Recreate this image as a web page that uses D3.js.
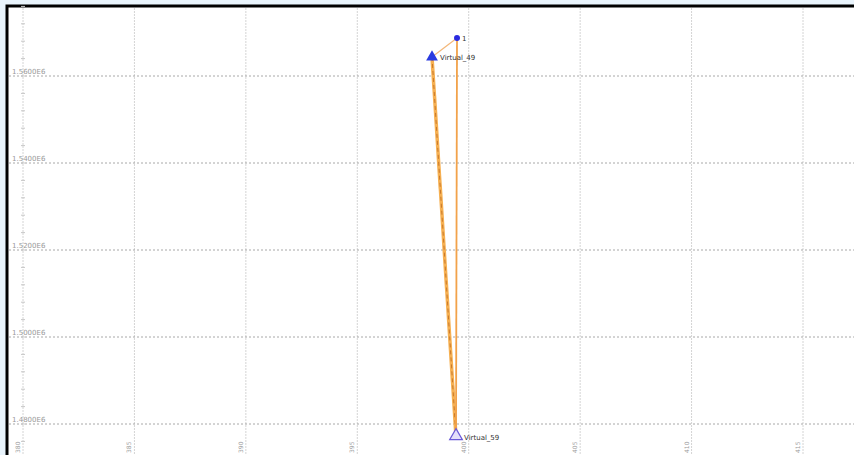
<!DOCTYPE html>
<html>
<head>
<meta charset="utf-8">
<script src="https://cdn.jsdelivr.net/npm/d3@7"></script>
<style>
  body { margin: 0; background: #e9f4fc; }
  svg { display: block; }
  text { font-family: "DejaVu Sans", sans-serif; }
</style>
</head>
<body>
<svg width="854" height="455"></svg>
<script>
// tick values of both axes
var xTicks = [380000, 385000, 390000, 395000, 400000, 405000, 410000, 415000];
var yTicks = [1560000, 1540000, 1520000, 1500000, 1480000];

// nodes: name, easting, northing, marker kind
var nodeNames = ['1', 'Virtual_49', 'Virtual_59'];
var nodeX = [399475, 398353, 399430];
var nodeY = [1568736, 1564368, 1477011];
var nodeKind = ['circle', 'filled', 'open'];

// links between nodes
var linkFrom = ['1', 'Virtual_49', '1'];
var linkTo = ['Virtual_49', 'Virtual_59', 'Virtual_59'];
var linkKind = ['thin', 'double', 'single'];

var svg = d3.select('svg');

var frame = {l: 7, t: 6};

// frame
svg.append('rect')
    .attr('x', frame.l).attr('y', frame.t)
    .attr('width', 900).attr('height', 500)
    .attr('fill', '#fff')
    .attr('stroke', '#000')
    .attr('stroke-width', 3);

var xScale = d3.scaleLinear().domain([380000, 415000]).range([23, 803]);
var yScale = d3.scaleLinear().domain([1560000, 1480000]).range([76, 424]);

var gridG = svg.append('g');

// vertical grid lines
gridG.selectAll('.vgrid').data(xTicks).enter()
    .append('line')
    .attr('class', 'vgrid')
    .attr('x1', function(d){ return xScale(d); })
    .attr('x2', function(d){ return xScale(d); })
    .attr('y1', frame.t + 2).attr('y2', 455)
    .attr('stroke', '#d4d4d4')
    .attr('stroke-dasharray', '2,1');

// horizontal grid lines
gridG.selectAll('.hgrid').data(yTicks).enter()
    .append('line')
    .attr('class', 'hgrid')
    .attr('y1', function(d){ return yScale(d); })
    .attr('y2', function(d){ return yScale(d); })
    .attr('x1', frame.l + 2).attr('x2', 854)
    .attr('stroke', '#a8a8a8')
    .attr('stroke-dasharray', '2,2');

// minor ticks on first vertical line
var minor = d3.range(1580000, 1470000, -4000);
gridG.selectAll('.minor').data(minor).enter()
    .append('line')
    .attr('x1', xScale(380000) - 2).attr('x2', xScale(380000) + 2)
    .attr('y1', function(d){ return yScale(d); })
    .attr('y2', function(d){ return yScale(d); })
    .attr('stroke', '#c8c8c8');

// y tick labels
gridG.selectAll('.ylab').data(yTicks).enter()
    .append('text')
    .attr('x', 12)
    .attr('y', function(d){ return yScale(d) - 2; })
    .attr('font-size', 7)
    .attr('fill', '#999')
    .text(function(d){ return d3.format('.4f')(d / 1e6) + 'E6'; });

// x tick labels (rotated)
gridG.selectAll('.xlab').data(xTicks).enter()
    .append('text')
    .attr('transform', function(d){
        return 'translate(' + [xScale(d) - 3, 453] + ') rotate(-90)';
    })
    .attr('font-size', 6)
    .attr('fill', '#999')
    .text(function(d){ return d3.format('d')(d / 1000); });

var nodes = nodeNames.map(function(n, i){
    return {name: n, x: nodeX[i], y: nodeY[i], kind: nodeKind[i]};
});
var byName = {};
nodes.forEach(function(n){ byName[n.name] = n; });

var links = linkFrom.map(function(f, i){
    return {s: byName[f], t: byName[linkTo[i]], kind: linkKind[i]};
});

var linkG = svg.append('g');
links.forEach(function(l){
    var line = function(sel){
        return sel.attr('x1', xScale(l.s.x)).attr('y1', yScale(l.s.y))
            .attr('x2', xScale(l.t.x)).attr('y2', yScale(l.t.y));
    };
    if (l.kind === 'double') {
        linkG.append('line').call(line)
            .attr('stroke', '#f6b052').attr('stroke-width', 3.5);
        linkG.append('line').call(line)
            .attr('stroke', '#c9782a').attr('stroke-width', 1)
            .attr('stroke-dasharray', '4,3');
    } else if (l.kind === 'thin') {
        linkG.append('line').call(line)
            .attr('stroke', '#f3b779').attr('stroke-width', 1.2);
    } else {
        linkG.append('line').call(line)
            .attr('stroke', '#f2a24a').attr('stroke-width', 1.8);
    }
});

var nodeG = svg.append('g');
nodes.forEach(function(n){
    var cx = xScale(n.x), cy = yScale(n.y);
    if (n.kind === 'circle') {
        nodeG.append('circle').attr('cx', cx).attr('cy', cy).attr('r', 3)
            .attr('fill', '#2a2ae0');
    } else if (n.kind === 'filled') {
        nodeG.append('path')
            .attr('d', d3.symbol().type(d3.symbolTriangle).size(60)())
            .attr('transform', 'translate(' + [cx, cy] + ')')
            .attr('fill', '#2a3be0');
    } else {
        nodeG.append('path')
            .attr('d', d3.symbol().type(d3.symbolTriangle).size(70)())
            .attr('transform', 'translate(' + [cx, cy - 1] + ')')
            .attr('fill', '#e4e0fa')
            .attr('stroke', '#6a5ad8')
            .attr('stroke-width', 1.2);
    }
    nodeG.append('text')
        .attr('x', cx + (n.kind === 'circle' ? 5 : 8))
        .attr('y', cy + 3)
        .attr('font-size', 7)
        .attr('fill', '#333')
        .text(n.name);
});
</script>
</body>
</html>
